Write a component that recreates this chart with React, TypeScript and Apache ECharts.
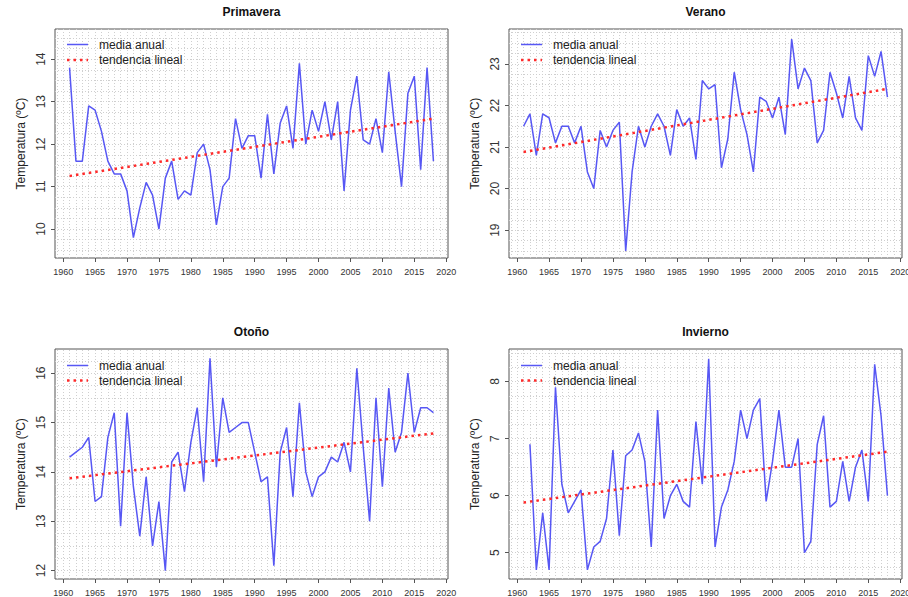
import React, { useEffect, useRef } from 'react';
import * as echarts from 'echarts';

// ---- data ----
const years: number[] = [
  1961, 1962, 1963, 1964, 1965, 1966, 1967, 1968, 1969, 1970,
  1971, 1972, 1973, 1974, 1975, 1976, 1977, 1978, 1979, 1980,
  1981, 1982, 1983, 1984, 1985, 1986, 1987, 1988, 1989, 1990,
  1991, 1992, 1993, 1994, 1995, 1996, 1997, 1998, 1999, 2000,
  2001, 2002, 2003, 2004, 2005, 2006, 2007, 2008, 2009, 2010,
  2011, 2012, 2013, 2014, 2015, 2016, 2017, 2018,
];

const primavera: number[] = [
  13.8, 11.6, 11.6, 12.9, 12.8, 12.3, 11.6, 11.3, 11.3, 10.9,
  9.8, 10.5, 11.1, 10.8, 10.0, 11.2, 11.6, 10.7, 10.9, 10.8,
  11.8, 12.0, 11.4, 10.1, 11.0, 11.2, 12.6, 11.9, 12.2, 12.2,
  11.2, 12.7, 11.3, 12.5, 12.9, 11.9, 13.9, 12.0, 12.8, 12.3,
  13.0, 12.1, 13.0, 10.9, 12.8, 13.6, 12.1, 12.0, 12.6, 11.8,
  13.7, 12.3, 11.0, 13.2, 13.6, 11.4, 13.8, 11.6,
];

const verano: number[] = [
  21.5, 21.8, 20.8, 21.8, 21.7, 21.1, 21.5, 21.5, 21.1, 21.5,
  20.4, 20.0, 21.4, 21.0, 21.4, 21.6, 18.5, 20.4, 21.5, 21.0,
  21.5, 21.8, 21.5, 20.8, 21.9, 21.5, 21.7, 20.7, 22.6, 22.4,
  22.5, 20.5, 21.2, 22.8, 21.9, 21.3, 20.4, 22.2, 22.1, 21.7,
  22.2, 21.3, 23.6, 22.4, 22.9, 22.6, 21.1, 21.4, 22.8, 22.3,
  21.7, 22.7, 21.7, 21.4, 23.2, 22.7, 23.3, 22.2,
];

const otono: number[] = [
  14.3, 14.4, 14.5, 14.7, 13.4, 13.5, 14.7, 15.2, 12.9, 15.2,
  13.7, 12.7, 13.9, 12.5, 13.4, 12.0, 14.2, 14.4, 13.6, 14.6,
  15.3, 13.8, 16.3, 14.1, 15.5, 14.8, 14.9, 15.0, 15.0, 14.4,
  13.8, 13.9, 12.1, 14.4, 14.9, 13.5, 15.4, 14.0, 13.5, 13.9,
  14.0, 14.3, 14.2, 14.6, 14.0, 16.1, 14.5, 13.0, 15.5, 13.7,
  15.7, 14.4, 14.8, 16.0, 14.8, 15.3, 15.3, 15.2,
];

const invierno: (number | null)[] = [
  null, 6.9, 4.7, 5.7, 4.7, 7.9, 6.2, 5.7, 5.9, 6.1,
  4.7, 5.1, 5.2, 5.6, 6.8, 5.3, 6.7, 6.8, 7.1, 6.6,
  5.1, 7.5, 5.6, 6.0, 6.2, 5.9, 5.8, 7.3, 6.2, 8.4,
  5.1, 5.8, 6.1, 6.6, 7.5, 7.0, 7.5, 7.7, 5.9, 6.6,
  7.5, 6.5, 6.5, 7.0, 5.0, 5.2, 6.9, 7.4, 5.8, 5.9,
  6.6, 5.9, 6.5, 6.8, 5.9, 8.3, 7.4, 6.0,
];

// linear trend endpoints (first year, last year)
const trendYears: number[] = [1961, 2018];
const trendPrimavera: number[] = [11.25, 12.6];
const trendVerano: number[] = [20.88, 22.4];
const trendOtono: number[] = [13.87, 14.78];
const trendInvierno: number[] = [5.88, 6.77];

const titles: string[] = ['Primavera', 'Verano', 'Otoño', 'Invierno'];
const xTicks: number[] = [1960, 1965, 1970, 1975, 1980, 1985, 1990, 1995, 2000, 2005, 2010, 2015, 2020];
const yTicksPrimavera: number[] = [10, 11, 12, 13, 14];
const yTicksVerano: number[] = [19, 20, 21, 22, 23];
const yTicksOtono: number[] = [12, 13, 14, 15, 16];
const yTicksInvierno: number[] = [5, 6, 7, 8];

const legendNames: string[] = ['media anual', 'tendencia lineal'];
const yName = 'Temperatura (ºC)';

// ---- layout / style ----
const FONT = '"Liberation Sans", Arial, Helvetica, sans-serif';
const BLUE = '#5757f4';
const RED = '#ff2a2a';
const X_MIN = 1958.72;
const X_MAX = 2020.28;

const layouts = [
  { left: 55, top: 29, width: 393, height: 229, yMin: 9.32, yMax: 14.71, leg: [15.5, 31] },
  { left: 509, top: 29, width: 393, height: 229, yMin: 18.33, yMax: 23.84, leg: [15.5, 31] },
  { left: 55, top: 349, width: 393, height: 230, yMin: 11.83, yMax: 16.49, leg: [16.5, 31.5] },
  { left: 509, top: 349, width: 393, height: 230, yMin: 4.54, yMax: 8.57, leg: [16.5, 31.5] },
];

const seriesValues = [primavera, verano, otono, invierno];
const trends = [trendPrimavera, trendVerano, trendOtono, trendInvierno];
const yTicks = [yTicksPrimavera, yTicksVerano, yTicksOtono, yTicksInvierno];

function gridLinesX(): number[] {
  const out: number[] = [];
  for (let y = Math.ceil(X_MIN); y <= Math.floor(X_MAX); y++) out.push(y);
  return out;
}
function gridLinesY(min: number, max: number): number[] {
  const out: number[] = [];
  for (let v = Math.ceil(min / 0.25) * 0.25; v <= max + 1e-9; v += 0.25) out.push(Math.round(v * 100) / 100);
  return out;
}

function buildOption() {
  const grid: any[] = [];
  const xAxis: any[] = [];
  const yAxis: any[] = [];
  const series: any[] = [];
  const graphic: any[] = [];

  layouts.forEach((l, i) => {
    grid.push({
      left: l.left, top: l.top, width: l.width, height: l.height,
      show: true, borderColor: '#555', borderWidth: 1,
      backgroundColor: '#fff', containLabel: false, outerBoundsMode: 'none',
    });
    xAxis.push({
      type: 'value', gridIndex: i, min: X_MIN, max: X_MAX,
      axisLine: { show: false },
      axisTick: { show: true, length: 4, lineStyle: { color: '#555' }, customValues: xTicks },
      axisLabel: {
        customValues: xTicks, fontSize: 9, color: '#333', margin: 9, fontFamily: FONT,
        formatter: (v: number) => (Math.abs(v % 5) < 1e-6 ? String(v) : ''),
      },
      splitLine: { show: false },
    });
    yAxis.push({
      type: 'value', gridIndex: i, min: l.yMin, max: l.yMax,
      axisLine: { show: false },
      axisTick: { show: true, length: 4, lineStyle: { color: '#555' }, customValues: yTicks[i] },
      axisLabel: {
        customValues: yTicks[i], rotate: 90, fontSize: 12, color: '#333', margin: 8, fontFamily: FONT,
        formatter: (v: number) => (Math.abs(v - Math.round(v)) < 1e-6 ? String(v) : ''),
      },
      splitLine: { show: false },
      name: yName, nameLocation: 'middle', nameRotate: 90, nameGap: 28,
      nameTextStyle: { fontSize: 12, color: '#222', fontFamily: FONT },
    });

    // background dotted grid
    series.push({
      type: 'line', xAxisIndex: i, yAxisIndex: i, data: [], silent: true, z: 1,
      markLine: {
        silent: true, symbol: ['none', 'none'], label: { show: false },
        lineStyle: { color: '#cfcfcf', type: [1, 2], width: 1 },
        emphasis: { disabled: true },
        animation: false,
        data: [
          ...gridLinesX().map((x) => ({ xAxis: x })),
          ...gridLinesY(l.yMin, l.yMax).map((y) => ({ yAxis: y })),
        ],
      },
    });

    series.push({
      type: 'line', name: legendNames[0], xAxisIndex: i, yAxisIndex: i, z: 10,
      data: years.map((y, k) => [y, seriesValues[i][k]]),
      symbol: 'none', showSymbol: false, connectNulls: false,
      lineStyle: { color: BLUE, width: 1.5 },
      itemStyle: { color: BLUE },
    });
    series.push({
      type: 'line', name: legendNames[1], xAxisIndex: i, yAxisIndex: i, z: 11,
      data: trendYears.map((y, k) => [y, trends[i][k]]),
      symbol: 'none', showSymbol: false,
      lineStyle: { color: RED, width: 2.5, type: [2.5, 4] },
      itemStyle: { color: RED },
    });

    // legend (drawn as graphic: line sample + label)
    const lx0 = l.left + 12;
    const lx1 = l.left + 33;
    const tx = l.left + 44;
    const y1 = l.top + l.leg[0];
    const y2 = l.top + l.leg[1];
    graphic.push(
      {
        type: 'line', z: 50, silent: true,
        shape: { x1: lx0, y1: y1, x2: lx1, y2: y1 },
        style: { stroke: BLUE, lineWidth: 1.5 },
      },
      {
        type: 'text', z: 50, silent: true, x: tx, y: y1,
        style: { text: legendNames[0], fontSize: 12, fontFamily: FONT, fill: '#222', align: 'left', verticalAlign: 'middle' },
      },
      {
        type: 'line', z: 50, silent: true,
        shape: { x1: lx0, y1: y2, x2: lx1, y2: y2 },
        style: { stroke: RED, lineWidth: 2.5, lineDash: [2.5, 4] },
      },
      {
        type: 'text', z: 50, silent: true, x: tx, y: y2,
        style: { text: legendNames[1], fontSize: 12, fontFamily: FONT, fill: '#222', align: 'left', verticalAlign: 'middle' },
      },
    );

    graphic.push({
      type: 'text', x: l.left + l.width / 2, y: l.top - 17,
      style: {
        text: titles[i], fontSize: 12, fontWeight: 'bold', fontFamily: FONT,
        fill: '#111', align: 'center', verticalAlign: 'middle',
      },
    });
  });

  return {
    animation: false,
    backgroundColor: '#fff',
    textStyle: { fontFamily: FONT },
    grid, xAxis, yAxis, series, graphic,
  };
}

export default function App() {
  const ref = useRef<HTMLDivElement>(null);
  useEffect(() => {
    if (!ref.current) return;
    const chart = echarts.init(ref.current, undefined, { renderer: 'svg' });
    chart.setOption(buildOption() as any);
    return () => chart.dispose();
  }, []);
  return (
    <div
      ref={ref}
      style={{ position: 'absolute', left: 0, top: 0, width: 908, height: 597, background: '#fff' }}
    />
  );
}
